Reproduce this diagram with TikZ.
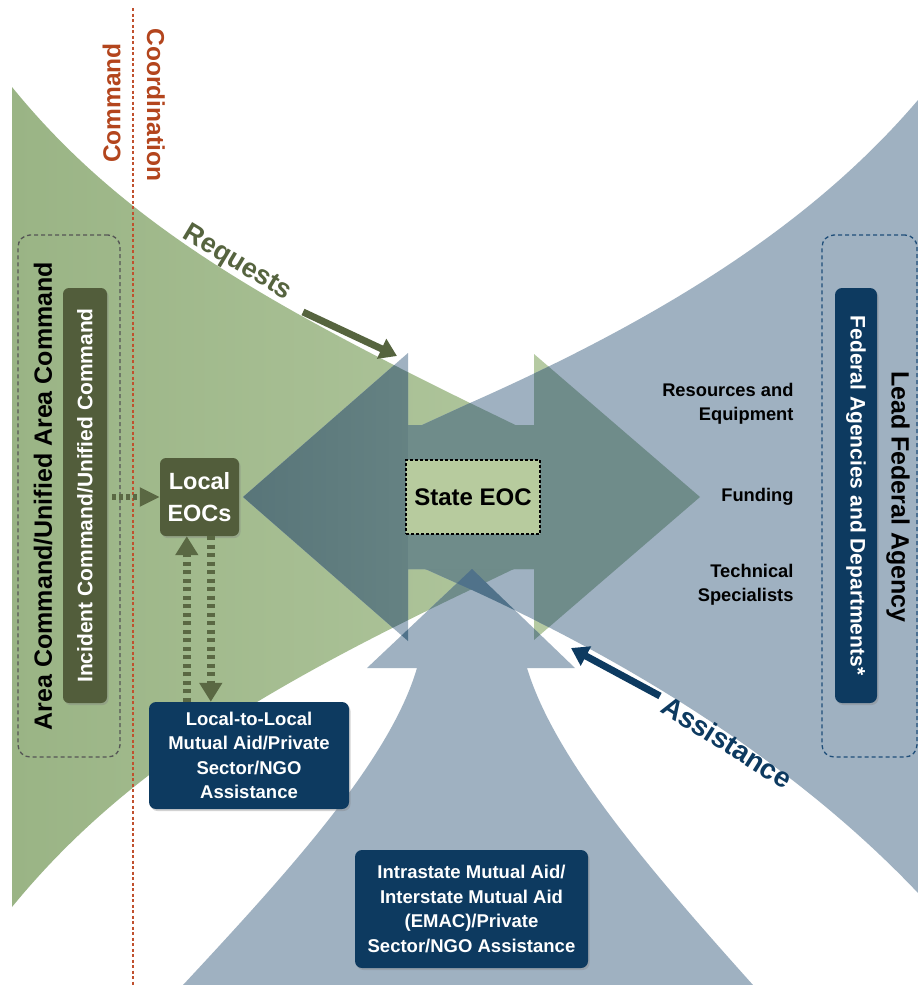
\documentclass[tikz,border=0pt]{standalone}
\usepackage{fontspec}
\setmainfont{Liberation Sans}
\usetikzlibrary{arrows.meta,shadows}
\definecolor{grnD}{HTML}{9AB485}
\definecolor{grnL}{HTML}{B5CAA2}
\definecolor{bgray}{HTML}{9FB1C1}
\definecolor{dteal}{HTML}{6F8C8A}
\definecolor{dtealD}{HTML}{587579}
\definecolor{dblue}{HTML}{50728A}
\definecolor{olivebx}{HTML}{525D3B}
\definecolor{olivear}{HTML}{5A6843}
\definecolor{reqcol}{HTML}{56643F}
\definecolor{navy}{HTML}{0D3A60}
\definecolor{navydash}{HTML}{1F4E79}
\definecolor{rust}{HTML}{B3451D}
\definecolor{rline}{HTML}{C0502E}
\definecolor{sgreen}{HTML}{B7CB9E}
\definecolor{boxgray}{HTML}{555555}

\def\pGbow{(12,87) .. controls (120,220) and (260,300) .. (470,403) -- (664,497) -- (470,590) .. controls (260,690) and (120,775) .. (12,907) -- cycle}
\def\pBbow{(918,100) .. controls (820,215) and (680,310) .. (470,403) -- (265,497) -- (472,590) .. controls (690,690) and (830,800) .. (918,893) -- cycle}
\def\pLarr{(243,497) -- (408,353) -- (408,425) -- (534,425) -- (534,569) -- (408,569) -- (408,641) -- cycle}
\def\pRarr{(700,497) -- (534,354) -- (534,425) -- (408,425) -- (408,569) -- (534,569) -- (534,640) -- cycle}
\def\pBarr{(472,569) -- (575,668) -- (527,668) .. controls (555,760) and (650,870) .. (753,985) -- (183,985) .. controls (290,870) and (390,760) .. (417,668) -- (367,668) -- cycle}

\begin{document}
\begin{tikzpicture}[x=1pt,y=-1pt,
  shd/.style={drop shadow={shadow xshift=1.5pt,shadow yshift=-2pt,opacity=0.35}},
  navybox/.style={fill=navy,rounded corners=7pt,shd,inner sep=0pt},
  olivebox/.style={fill=olivebx,rounded corners=6pt,shd,inner sep=0pt},
  boxtxt/.style={font=\bfseries\fontsize{18.5}{24.5}\selectfont,text=white,align=center},
  lbl/.style={font=\bfseries\fontsize{18.3}{24}\selectfont,align=right,anchor=east},
  vtxt/.style={font=\bfseries\fontsize{25}{28}\selectfont},
  dashbox/.style={dash pattern=on 4pt off 3pt,line width=1.3pt,rounded corners=12pt,inner sep=0pt},
  olivedash/.style={draw=olivear,line width=8pt,dash pattern=on 4pt off 4.5pt,-{Triangle[length=19pt,width=22pt]}},
  hdash/.style={draw=olivear,line width=6pt,dash pattern=on 4pt off 3pt,-{Triangle[length=20pt,width=18pt]}},
  bigarrow/.style={line width=7pt,-{Triangle[length=17pt,width=21pt]}}
]
\useasboundingbox (0,0) rectangle (918,985);
\fill[white] (0,0) rectangle (918,985);

% colour layers
\shade[left color=grnD,right color=grnL] \pGbow;
\fill[grnL] \pRarr;
\fill[bgray] \pBbow;
\fill[bgray] \pLarr;
\fill[bgray] \pBarr;
% overlaps green x blue
\begin{scope}\clip \pGbow; \fill[dteal] \pBbow; \end{scope}
\begin{scope}\clip \pGbow; \shade[left color=dtealD,right color=dteal] \pLarr; \end{scope}
\begin{scope}\clip \pGbow; \fill[dteal] \pBarr; \end{scope}
\begin{scope}\clip \pRarr; \fill[dteal] \pBbow; \end{scope}
\begin{scope}\clip \pRarr; \fill[dteal] \pLarr; \end{scope}
\begin{scope}\clip \pRarr; \fill[dteal] \pBarr; \end{scope}
% overlaps blue x blue
\begin{scope}\clip \pBarr; \fill[dblue] \pBbow; \end{scope}
\begin{scope}\clip \pBarr; \fill[dblue] \pLarr; \end{scope}

% command / coordination divider
\coordinate (cl1) at (133,8);
\coordinate (cl2) at (133,985);
\draw[rline,line width=1.3pt,dash pattern=on 3pt off 2.5pt] (cl1) -- (cl2);
\node[rotate=90,text=rust,font=\bfseries\fontsize{24.5}{27}\selectfont] (cmd) at (111.5,103) {Command};
\node[rotate=-90,text=rust,font=\bfseries\fontsize{24.5}{27}\selectfont] (coord) at (156,105) {Coordination};

% left side
\node[draw=boxgray,dashbox,minimum width=102pt,minimum height=522pt] (acbox) at (69,496) {};
\node[rotate=90,vtxt] (actxt) at (43,496) {Area Command/Unified Area Command};
\node[olivebox,rotate=90,minimum width=415pt,minimum height=44pt,text=white,font=\bfseries\fontsize{21}{24}\selectfont] (inc) at (85,495.5) {Incident Command/Unified Command};

% right side
\node[draw=navydash,dashbox,minimum width=95pt,minimum height=522pt] (fdbox) at (869.5,496) {};
\node[navybox,rotate=-90,minimum width=415pt,minimum height=42pt,text=white,font=\bfseries\fontsize{21}{24}\selectfont] (fed) at (856,495.5) {Federal Agencies and Departments*};
\node[rotate=-90,vtxt] (lfa) at (898,497) {Lead Federal Agency};
\node[lbl] (res) at (797,404) {Resources and\\Equipment};
\node[lbl] (fund) at (797,497) {Funding};
\node[lbl] (tech) at (797,585) {Technical\\Specialists};

% centre
\node[draw=black,fill=sgreen,line width=1.6pt,dash pattern=on 3pt off 2pt,minimum width=134pt,minimum height=74pt,inner sep=0pt,font=\bfseries\fontsize{24}{28}\selectfont] (seoc) at (473,497) {State EOC};
\node[olivebox,minimum width=79pt,minimum height=78pt,text=white,align=center,font=\bfseries\fontsize{23.5}{32}\selectfont] (loc) at (199.5,497) {Local\\EOCs};

% bottom boxes
\node[navybox,minimum width=200pt,minimum height=107pt,boxtxt] (l2l) at (249,755.5) {Local-to-Local\\Mutual Aid/Private\\Sector/NGO\\Assistance};
\node[navybox,minimum width=233pt,minimum height=118pt,boxtxt] (intra) at (471.5,909) {Intrastate Mutual Aid/\\Interstate Mutual Aid\\(EMAC)/Private\\Sector/NGO Assistance};

% dashed connectors around Local EOCs
\draw[hdash] ([xshift=5pt]inc.south |- loc.west) -- (loc.west);
\coordinate (ua) at ([xshift=38pt]l2l.north west);
\draw[olivedash] (ua) -- (ua |- loc.south);
\coordinate (da) at ([xshift=51pt]loc.south west);
\draw[olivedash] (da) -- (da |- l2l.north);

% Requests / Assistance
\node[rotate=-31,text=reqcol,font=\bfseries\fontsize{27}{30}\selectfont] (req) at (237,263) {Requests};
\coordinate (rqa) at (303,312);
\coordinate (rqb) at (397,356);
\draw[reqcol,bigarrow] (rqa) -- (rqb);
\node[rotate=-32,text=navy,font=\bfseries\fontsize{28}{30}\selectfont] (asst) at (727,742) {Assistance};
\coordinate (asa) at (660,696);
\coordinate (asb) at (571,648);
\draw[navy,bigarrow] (asa) -- (asb);
\end{tikzpicture}
\end{document}
